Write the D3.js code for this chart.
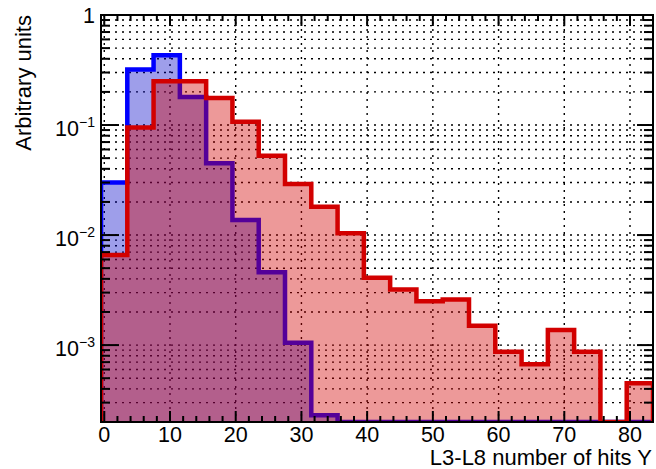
<!DOCTYPE html>
<html>
<head>
<meta charset="utf-8">
<script src="https://cdn.jsdelivr.net/npm/d3@7"></script>
<style>
  html, body { margin: 0; padding: 0; background: #fff; }
  svg text { font-family: "Liberation Sans", Arial, Helvetica, sans-serif; fill: #000; }
</style>
</head>
<body>
<svg id="chart" width="656" height="469"></svg>
<script>
// ---------- data ----------
const binLowEdges = [-0.5, 3.5, 7.5, 11.5, 15.5, 19.5, 23.5, 27.5, 31.5, 35.5, 39.5,
                     43.5, 47.5, 51.5, 55.5, 59.5, 63.5, 67.5, 71.5, 75.5, 79.5];
const binWidth = 4;
const blueValues = [0.030, 0.32, 0.43, 0.18, 0.045, 0.0137, 0.0046, 0.00105, 0.00023,
                    0, 0, 0, 0, 0, 0, 0, 0, 0, 0, 0, 0];
const redValues  = [0.0066, 0.095, 0.25, 0.25, 0.176, 0.107, 0.0526, 0.0291, 0.0181,
                    0.0104, 0.0041, 0.0032, 0.0025, 0.0026, 0.0015, 0.00087, 0.00067,
                    0.00137, 0.00087, 0, 0.00045];
const xMajorTicks = [0, 10, 20, 30, 40, 50, 60, 70, 80];
const yDecadeTicks = [1, 0.1, 0.01, 0.001];
const yDecadeLabels = [["1", ""], ["10", "\u22121"], ["10", "\u22122"], ["10", "\u22123"]];
const xTitle = "L3-L8 number of hits Y";
const yTitle = "Arbitrary units";

// ---------- layout ----------
const svg = d3.select("#chart");
const L = 101, R = 653, T = 15, B = 422;
const x = d3.scaleLinear().domain([-0.5, 83.5]).range([L, R]);
const y = d3.scaleLog().domain([2e-4, 1]).range([B, T]);

svg.append("defs").append("clipPath").attr("id", "clip")
  .append("rect").attr("x", L).attr("y", T).attr("width", R - L).attr("height", B - T);

// grid
const grid = svg.append("g").attr("stroke", "#000").attr("stroke-width", 1.4)
  .attr("stroke-dasharray", "2,5").attr("fill", "none");
const yMinor = [];
[1e-4, 1e-3, 1e-2, 1e-1].forEach(d => { for (let k = 1; k <= 9; k++) { const v = d * k; if (v >= 2e-4 && v <= 1) yMinor.push(v); } });
yMinor.push(1);
yMinor.forEach(v => {
  if (v >= 1) return;
  grid.append("line").attr("x1", L).attr("x2", R).attr("y1", y(v)).attr("y2", y(v));
});
xMajorTicks.forEach(v => {
  grid.append("line").attr("x1", x(v)).attr("x2", x(v)).attr("y1", T).attr("y2", B);
});

// histograms
function histPoints(vals) {
  const pts = [[binLowEdges[0], null]];
  vals.forEach((v, i) => pts.push([binLowEdges[i], v]));
  const last = binLowEdges[binLowEdges.length - 1] + binWidth;
  pts.push([last, vals[vals.length - 1]]);
  pts.push([last, null]);
  return pts;
}
const yv = v => (v == null || v <= 0) ? B : y(v);
const lineGen = d3.line().x(d => x(d[0])).y(d => yv(d[1])).curve(d3.curveStepAfter);

const plot = svg.append("g").attr("clip-path", "url(#clip)");
function drawHist(vals, fill, stroke) {
  const pts = histPoints(vals);
  plot.append("path").attr("d", lineGen(pts) + "Z").attr("fill", fill).attr("stroke", "none");
  plot.append("path").attr("d", lineGen(pts)).attr("fill", "none")
    .attr("stroke", stroke).attr("stroke-width", 4.5).attr("stroke-linejoin", "miter");
}
drawHist(blueValues, "rgba(0,0,200,0.38)", "#0000ff");
drawHist(redValues, "rgba(210,0,0,0.4)", "#d20000");

// frame
svg.append("rect").attr("x", L).attr("y", T).attr("width", R - L).attr("height", B - T)
  .attr("fill", "none").attr("stroke", "#000").attr("stroke-width", 2);

// ticks
const ticks = svg.append("g").attr("stroke", "#000").attr("stroke-width", 2);
for (let v = 0; v <= 82; v += 2) {
  const len = (v % 10 === 0) ? 11 : 6;
  ticks.append("line").attr("x1", x(v)).attr("x2", x(v)).attr("y1", B).attr("y2", B - len);
  ticks.append("line").attr("x1", x(v)).attr("x2", x(v)).attr("y1", T).attr("y2", T + len);
}
yMinor.forEach(v => {
  const major = yDecadeTicks.some(d => Math.abs(d - v) / d < 1e-6);
  const lenL = major ? 18 : 9, lenR = major ? 16 : 9;
  ticks.append("line").attr("x1", L).attr("x2", L + lenL).attr("y1", y(v)).attr("y2", y(v));
  ticks.append("line").attr("x1", R).attr("x2", R - lenR).attr("y1", y(v)).attr("y2", y(v));
});

// tick labels
xMajorTicks.forEach(v => {
  svg.append("text").attr("x", x(v)).attr("y", 442).attr("text-anchor", "middle")
    .attr("font-size", 21.5).text(v);
});
yDecadeTicks.forEach((v, i) => {
  const [base, exp] = yDecadeLabels[i];
  const t = svg.append("text").attr("x", 95).attr("y", y(v) + (exp ? 11 : 8))
    .attr("text-anchor", "end").attr("font-size", 21.5);
  t.append("tspan").text(base);
  if (exp) t.append("tspan").attr("font-size", 14).attr("dy", -9).text(exp);
});

// axis titles
svg.append("text").attr("x", 652).attr("y", 465).attr("text-anchor", "end")
  .attr("font-size", 22).text(xTitle);
svg.append("text").attr("transform", "translate(31," + T + ") rotate(-90)")
  .attr("text-anchor", "end").attr("font-size", 22).text(yTitle);
</script>
</body>
</html>
